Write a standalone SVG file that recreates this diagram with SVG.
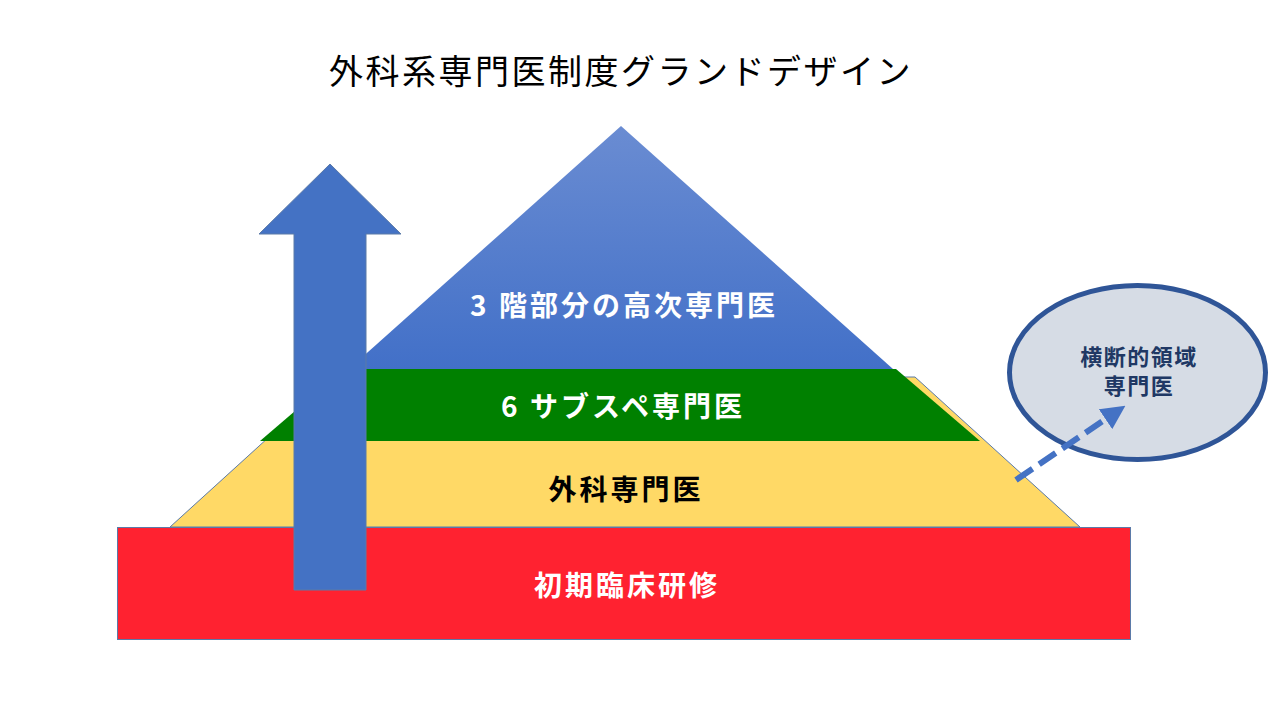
<svg xmlns="http://www.w3.org/2000/svg" width="1280" height="720" viewBox="0 0 1280 720">
<style>
.jp{font-family:"Noto Sans CJK JP","Noto Sans",sans-serif;}
.lbl{font-size:28px;font-weight:bold;text-anchor:middle;letter-spacing:3px;}
.edge{stroke:#5B7AA8;stroke-width:1;}
.oval{font-size:22px;font-weight:bold;text-anchor:middle;letter-spacing:1.5px;fill:#203864;}
</style>
<defs>
<linearGradient id="gBlue" x1="0" y1="0" x2="0" y2="1">
<stop offset="0" stop-color="#6A8CD2"/>
<stop offset="1" stop-color="#4270C8"/>
</linearGradient>
<marker id="ah" markerWidth="4" markerHeight="4" refX="0.5" refY="2" orient="auto" markerUnits="strokeWidth">
<path d="M0,0 L4,2 L0,4 z" fill="#4472C4"/>
</marker>
</defs>
<rect width="1280" height="720" fill="#FFFFFF"/>
<text class="jp" x="621" y="84" font-size="34" letter-spacing="2.5" text-anchor="middle" fill="#000000">外科系専門医制度グランドデザイン</text>
<g id="tier-surgeon">
<polygon class="edge" points="170,527 1080,527 915,377 335,377" fill="#FFD966"/>
<text class="jp lbl" x="626" y="500" fill="#000000">外科専門医</text>
</g>
<g id="tier-top">
<polygon points="621,126 893,369 349,369" fill="url(#gBlue)"/>
<text class="jp lbl" x="624" y="316" fill="#FFFFFF">3 階部分の高次専門医</text>
</g>
<g id="tier-subspecialty">
<polygon points="344,369 896,369 980,441 260,441" fill="#008000"/>
<text class="jp lbl" x="623" y="417" fill="#FFFFFF">6 サブスペ専門医</text>
</g>
<g id="tier-initial">
<rect class="edge" x="117.5" y="527.5" width="1013" height="112" fill="#FF2230"/>
<text class="jp lbl" x="627" y="596" fill="#FFFFFF">初期臨床研修</text>
</g>
<g id="up-arrow">
<polygon class="edge" points="330,164 401,234 366,234 366,590 294,590 294,234 259,234" fill="#4472C4"/>
</g>
<g id="cross-field">
<ellipse cx="1137.5" cy="372.5" rx="128" ry="87" fill="#D6DCE5" stroke="#2F5597" stroke-width="5"/>
<text class="jp oval" x="1139" y="365">横断的領域</text>
<text class="jp oval" x="1139" y="394">専門医</text>
</g>
<g id="connectors">
<line x1="1016" y1="480" x2="1108" y2="417.5" stroke="#4472C4" stroke-width="6" stroke-dasharray="20,8" marker-end="url(#ah)"/>
</g>
</svg>
